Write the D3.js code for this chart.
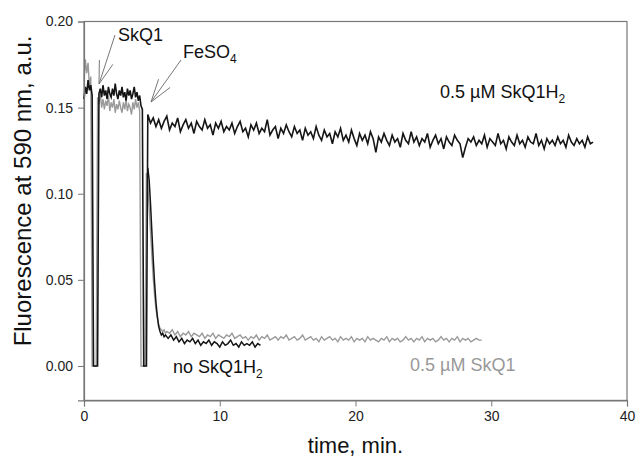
<!DOCTYPE html>
<html><head><meta charset="utf-8">
<script src="https://cdn.jsdelivr.net/npm/d3@7"></script>
<style>html,body{margin:0;padding:0;background:#fff;} svg{display:block;font-family:"Liberation Sans",Arial,sans-serif;}</style>
</head><body>
<svg id="chart" width="636" height="457"></svg>
<script>
// ---- data (time in min, fluorescence in a.u.) ----
const xTicks = [0, 10, 20, 30, 40];
const yTicks = [0.00, 0.05, 0.10, 0.15, 0.20];

// gray trace: 0.5 µM SkQ1
const grayEarlyStart = 0.0, grayEarlyStep = 0.1;
const grayEarly = [0.165,0.178,0.170,0.176,0.162,0.168,0.000,0.000,0.000,0.000,
  0.156,0.152,0.158,0.150,0.155,0.149,0.154,0.151,0.157,0.148,
  0.153,0.150,0.155,0.147,0.152,0.149,0.154,0.150,0.147,0.153,
  0.149,0.155,0.148,0.152,0.150,0.146,0.153,0.149,0.155,0.150,
  0.153,0.148,0.000,0.000,0.000,0.000];
const grayDecayStart = 4.6, grayDecayStep = 0.1;
const grayDecay = [0.112,0.104,0.092,0.078,0.064,0.051,0.041,0.033,0.028,0.024,
  0.022,0.021,0.020,0.021,0.019,0.020];
const grayTailStart = 6.3, grayTailStep = 0.2;
const grayTail = [0.019,0.021,0.018,0.020,0.017,0.019,0.018,0.020,0.017,0.019,
  0.018,0.017,0.019,0.016,0.018,0.017,0.019,0.016,0.018,0.017,
  0.016,0.018,0.017,0.019,0.016,0.017,0.018,0.016,0.017,0.015,
  0.017,0.016,0.018,0.015,0.017,0.016,0.018,0.015,0.016,0.017,
  0.015,0.017,0.016,0.018,0.015,0.016,0.017,0.015,0.016,0.018,
  0.015,0.016,0.017,0.015,0.016,0.014,0.017,0.015,0.016,0.017,
  0.015,0.016,0.014,0.017,0.015,0.016,0.015,0.017,0.014,0.016,
  0.015,0.016,0.014,0.017,0.015,0.016,0.015,0.014,0.016,0.015,
  0.017,0.014,0.016,0.015,0.016,0.014,0.015,0.017,0.015,0.016,
  0.014,0.016,0.015,0.017,0.014,0.016,0.015,0.016,0.014,0.015,
  0.017,0.015,0.016,0.014,0.016,0.015,0.017,0.014,0.016,0.015,
  0.016,0.014,0.015,0.016,0.015,0.015];

// black trace: 0.5 µM SkQ1H2 (shares the pre-FeSO4 part)
const blackEarlyStart = 0.0, blackEarlyStep = 0.1;
const blackEarly = [0.155,0.162,0.158,0.166,0.160,0.163,0.157,0.000,0.000,0.000,
  0.000,0.158,0.161,0.156,0.163,0.157,0.160,0.155,0.162,0.158,
  0.156,0.161,0.157,0.164,0.158,0.155,0.160,0.157,0.162,0.156,
  0.159,0.154,0.161,0.157,0.160,0.155,0.158,0.162,0.156,0.159,
  0.154,0.157,0.151,0.149,0.000,0.000,0.000];
const h2LateStart = 4.7, h2LateStep = 0.2;
const h2Late = [0.146,0.141,0.144,0.139,0.143,0.138,0.142,0.145,0.137,0.141,
  0.139,0.144,0.136,0.140,0.143,0.138,0.141,0.135,0.142,0.139,
  0.137,0.143,0.138,0.140,0.134,0.141,0.138,0.142,0.136,0.139,
  0.137,0.141,0.135,0.139,0.142,0.136,0.138,0.133,0.140,0.137,
  0.141,0.135,0.138,0.136,0.143,0.134,0.137,0.139,0.132,0.138,
  0.135,0.140,0.136,0.133,0.139,0.135,0.137,0.131,0.138,0.134,
  0.136,0.132,0.139,0.134,0.131,0.137,0.133,0.135,0.129,0.136,
  0.133,0.138,0.131,0.134,0.130,0.137,0.132,0.128,0.135,0.131,
  0.134,0.129,0.136,0.132,0.124,0.133,0.130,0.135,0.131,0.128,
  0.134,0.130,0.132,0.127,0.135,0.131,0.129,0.136,0.130,0.133,
  0.128,0.132,0.130,0.135,0.127,0.131,0.134,0.129,0.132,0.126,
  0.133,0.130,0.128,0.134,0.131,0.129,0.121,0.127,0.132,0.130,
  0.133,0.128,0.131,0.129,0.134,0.127,0.132,0.130,0.128,0.135,
  0.129,0.131,0.126,0.133,0.130,0.128,0.134,0.129,0.131,0.127,
  0.133,0.130,0.129,0.135,0.128,0.131,0.126,0.132,0.129,0.131,
  0.128,0.133,0.129,0.131,0.127,0.134,0.130,0.128,0.132,0.129,
  0.131,0.127,0.133,0.129,0.130];

// black trace: no SkQ1H2 (after FeSO4)
const noDecayStart = 4.7, noDecayStep = 0.1;
const noDecay = [0.115,0.108,0.094,0.078,0.062,0.048,0.037,0.029,0.023,0.020,
  0.018,0.019,0.017,0.018];
const noTailStart = 6.2, noTailStep = 0.2;
const noTail = [0.016,0.018,0.015,0.017,0.014,0.016,0.013,0.015,0.014,0.016,
  0.013,0.015,0.012,0.014,0.013,0.015,0.012,0.014,0.013,0.011,
  0.014,0.012,0.013,0.015,0.012,0.013,0.011,0.014,0.012,0.013,
  0.012,0.014,0.011,0.013,0.012];

// ---- chart ----
const svg = d3.select("#chart");
const x = d3.scaleLinear().domain([0, 40]).range([84, 627]);
const y = d3.scaleLinear().domain([-0.02, 0.20]).range([400.4, 21.5]);

function seg(t0, step, vals) { return vals.map((v, i) => [t0 + i * step, v]); }
const grayPts = seg(grayEarlyStart, grayEarlyStep, grayEarly)
  .concat(seg(grayDecayStart, grayDecayStep, grayDecay))
  .concat(seg(grayTailStart, grayTailStep, grayTail));
const h2Pts = seg(blackEarlyStart, blackEarlyStep, blackEarly)
  .concat(seg(h2LateStart, h2LateStep, h2Late));
const noPts = seg(noDecayStart, noDecayStep, noDecay)
  .concat(seg(noTailStart, noTailStep, noTail));

const line = d3.line().x(d => x(d[0])).y(d => y(d[1]));

const axisColor = "#777";
// frame
svg.append("rect").attr("x", x(0)).attr("y", y(0.20)).attr("width", x(40) - x(0)).attr("height", y(-0.02) - y(0.20))
  .attr("fill", "none").attr("stroke", axisColor).attr("stroke-width", 1.2);

// traces
svg.append("path").datum(grayPts).attr("d", line).attr("fill", "none").attr("stroke", "#9a9a9a").attr("stroke-width", 1.4);
svg.append("path").datum(noPts).attr("d", line).attr("fill", "none").attr("stroke", "#151515").attr("stroke-width", 1.5);
svg.append("path").datum(h2Pts).attr("d", line).attr("fill", "none").attr("stroke", "#151515").attr("stroke-width", 1.6);

// axes
const gx = svg.append("g").attr("transform", `translate(0,${y(-0.02)})`)
  .call(d3.axisBottom(x).tickValues(xTicks).tickFormat(d3.format("d")).tickSize(6).tickPadding(5));
const gy = svg.append("g").attr("transform", `translate(${x(0)},0)`)
  .call(d3.axisLeft(y).tickValues(yTicks).tickFormat(d3.format(".2f")).tickSize(6).tickPadding(5));
[gx, gy].forEach(g => {
  g.select(".domain").attr("stroke", axisColor).attr("stroke-width", 1.2);
  g.selectAll(".tick line").attr("stroke", axisColor);
  g.selectAll("text").attr("font-size", 14).attr("fill", "#222")
    .attr("font-family", '"Liberation Sans", Arial, sans-serif');
});

// axis titles
svg.append("text").attr("x", x(20)).attr("y", 453).attr("text-anchor", "middle")
  .attr("font-size", 22).attr("fill", "#111").text("time, min.");
svg.append("text").attr("transform", `translate(31,${(y(0.20) + y(-0.02)) / 2 - 20}) rotate(-90)`)
  .attr("text-anchor", "middle").attr("font-size", 24).attr("fill", "#111").text("Fluorescence at 590 nm, a.u.");

// annotations
function label(tx, ty, main, sub, color) {
  const t = svg.append("text").attr("x", tx).attr("y", ty).attr("font-size", 18).attr("fill", color);
  t.append("tspan").text(main);
  if (sub) t.append("tspan").attr("font-size", 12).attr("dy", 5).text(sub);
}
label(118, 41, "SkQ1", null, "#111");
label(183, 58, "FeSO", "4", "#111");
label(440, 98, "0.5 µM SkQ1H", "2", "#111");
label(173, 373, "no SkQ1H", "2", "#111");
label(410, 371, "0.5 µM SkQ1", null, "#999");

function arrow(x1, y1, x2, y2) {
  const a = Math.atan2(y1 - y2, x1 - x2), len = 24, spread = 0.3;
  const g = svg.append("g").attr("stroke", "#777").attr("stroke-width", 1).attr("fill", "none");
  g.append("line").attr("x1", x1).attr("y1", y1).attr("x2", x2).attr("y2", y2);
  [a - spread, a + spread].forEach(b => {
    g.append("line").attr("x1", x2).attr("y1", y2)
      .attr("x2", x2 + len * Math.cos(b)).attr("y2", y2 + len * Math.sin(b));
  });
}
arrow(115, 35, 99, 84);
arrow(181, 60, 151, 102);
</script>
</body></html>
